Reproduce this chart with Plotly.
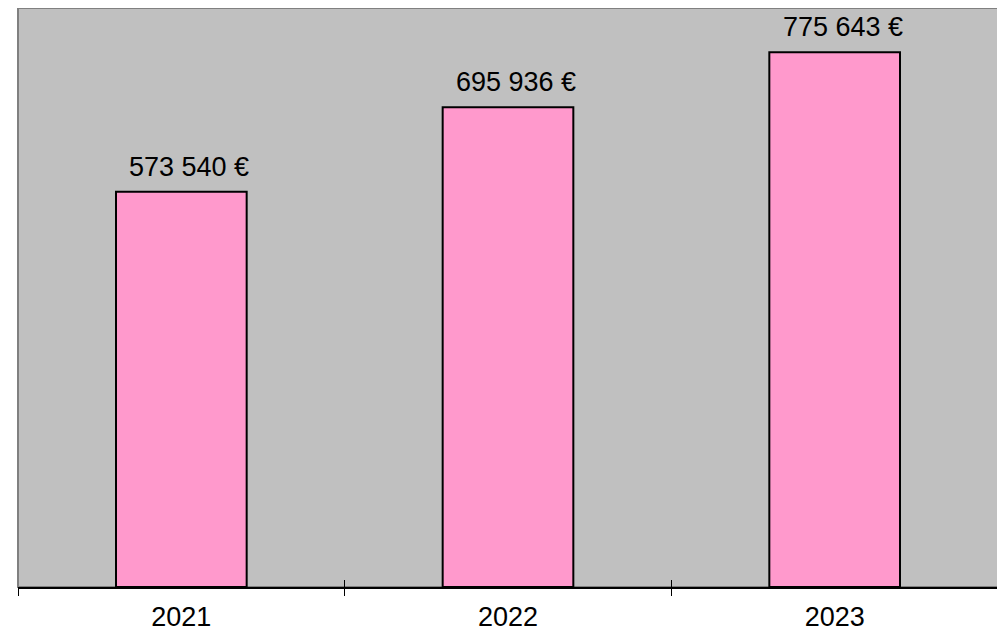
import plotly.graph_objects as go

years = ["2021", "2022", "2023"]
values = [573540, 695936, 775643]
labels = ["573 540 €", "695 936 €", "775 643 €"]

FONT = "Liberation Sans, Arial"

fig = go.Figure()
fig.add_trace(go.Bar(
    x=years, y=values, width=0.4,
    marker=dict(color="#FF99CC", line=dict(color="#000000", width=2)),
    hoverinfo="skip",
))
# invisible trace on overlay axis, used for the inside half of the crossing ticks
fig.add_trace(go.Scatter(x=years, y=values, xaxis="x2", mode="markers",
                         marker=dict(opacity=0), hoverinfo="skip"))
for i, (y, t) in enumerate(zip(values, labels)):
    fig.add_annotation(x=i, y=y, text=t, showarrow=False, yanchor="bottom",
                       xshift=8, yshift=8,
                       font=dict(family=FONT, size=27, color="#000000"))

fig.add_shape(type="rect", xref="paper", yref="paper", x0=0, x1=1, y0=0, y1=1,
              line=dict(color="#808080", width=2), layer="below")

fig.update_layout(
    width=997, height=623,
    margin=dict(l=10, r=7, t=0, b=44),
    plot_bgcolor="#C0C0C0", paper_bgcolor="#FFFFFF",
    showlegend=False,
    font=dict(family=FONT, size=27, color="#000000"),
    xaxis=dict(type="category", tickson="boundaries", ticks="outside", ticklen=7,
               tickcolor="#000000", tickwidth=1, showline=True, linecolor="#000000",
               linewidth=2, showgrid=False, tickfont=dict(family=FONT, size=27),
               range=[-0.5, 2.5], ticklabelstandoff=5, automargin=False),
    xaxis2=dict(type="category", overlaying="x", side="bottom", anchor="y",
                tickson="boundaries", ticks="inside", ticklen=7, tickcolor="#000000",
                tickwidth=1, showticklabels=False, showline=False, showgrid=False,
                range=[-0.5, 2.5], automargin=False),
    yaxis=dict(range=[0, 840000], showgrid=False, showticklabels=False, zeroline=False,
               showline=False, ticks="", automargin=False),
)

fig.write_html("out.html")
